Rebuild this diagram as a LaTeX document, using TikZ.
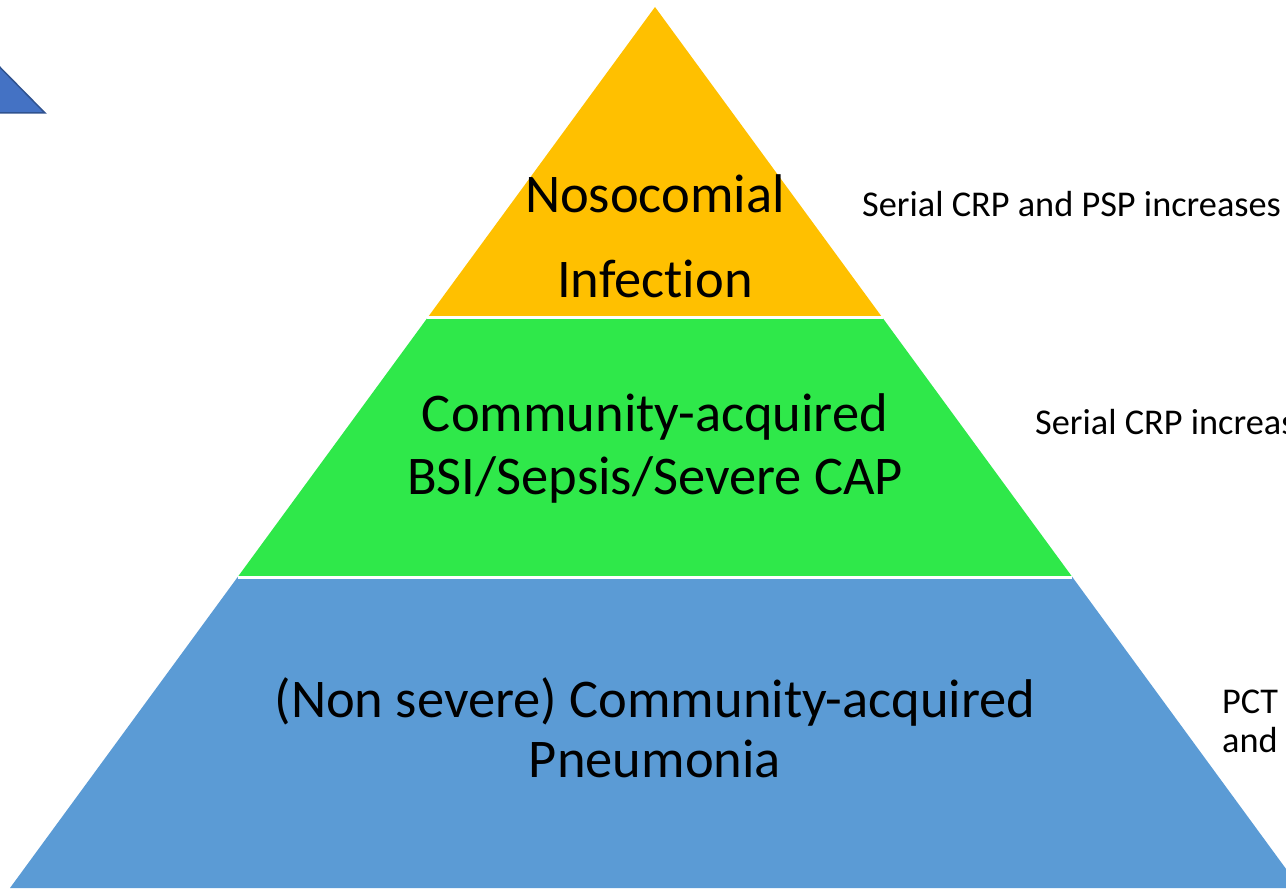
\documentclass[tikz,border=0pt]{standalone}
\usepackage{fontspec}
\setmainfont{Carlito}[Ligatures={NoCommon}]
\definecolor{nosogold}{RGB}{255, 192, 0}
\definecolor{sepsisgreen}{RGB}{47, 232, 74}
\definecolor{capblue}{RGB}{91, 155, 213}
\definecolor{markerblue}{RGB}{68, 114, 196}
\definecolor{markeredge}{RGB}{47, 82, 143}
\usetikzlibrary{calc}
\usetikzlibrary{positioning}
\tikzset{
    gap/.style = {draw=white, line width=3pt},
    marker/.style = {
      fill=markerblue,
      draw=markeredge,
      line width=1.5pt
    },
    tier/.style = {
      anchor=base,
      align=center,
      inner sep=0pt,
      font=\fontsize{54.5}{60}\selectfont
    },
    note/.style = {
      anchor=base west,
      align=left,
      inner sep=0pt,
      font=\fontsize{36.3}{39}\selectfont
    },
}

\begin{document}
\begin{tikzpicture}[x=1pt, y=-1pt]
      \useasboundingbox (0,0) rectangle (1286,890);
      \clip (0,0) rectangle (1286,890);

      \coordinate (apex) at (655,7);
      \coordinate (bl) at (10,888);
      \coordinate (br) at (1300,888);
      \coordinate (nl) at ($(apex)!.353!(bl)$);
      \coordinate (nr) at ($(apex)!.353!(br)$);
      \coordinate (sl) at ($(apex)!.647!(bl)$);
      \coordinate (sr) at ($(apex)!.647!(br)$);

      \fill[nosogold] (apex) -- (nr) -- (nl) -- cycle;
      \fill[sepsisgreen] (nl) -- (nr) -- (sr) -- (sl) -- cycle;
      \fill[capblue] (sl) -- (sr) -- (br) -- (bl) -- cycle;
      \draw[gap] (nl) -- (nr);
      \draw[gap] (sl) -- (sr);

      % cut-off shape in the corner
      \filldraw[marker] (-20,47) -- (45,113) -- (-20,113) -- cycle;

      \node [tier] (nosocomial) at (655,298) {Nosocomial\\[25pt]Infection};
      \node [tier] (sepsis) at (655,495) {Community-acquired\\[3pt]BSI/Sepsis/Severe CAP};
      \node [tier] (pneumonia) at (655,777) {(Non severe) Community-acquired\\Pneumonia};

      \node [note] (psp) at (862,217) {Serial CRP and PSP increases};
      \node [note] (crp) at (1035,435) {Serial CRP increases};
      \node [note] (pct) at (1222,752) {PCT\\and};
    \end{tikzpicture}
\end{document}
